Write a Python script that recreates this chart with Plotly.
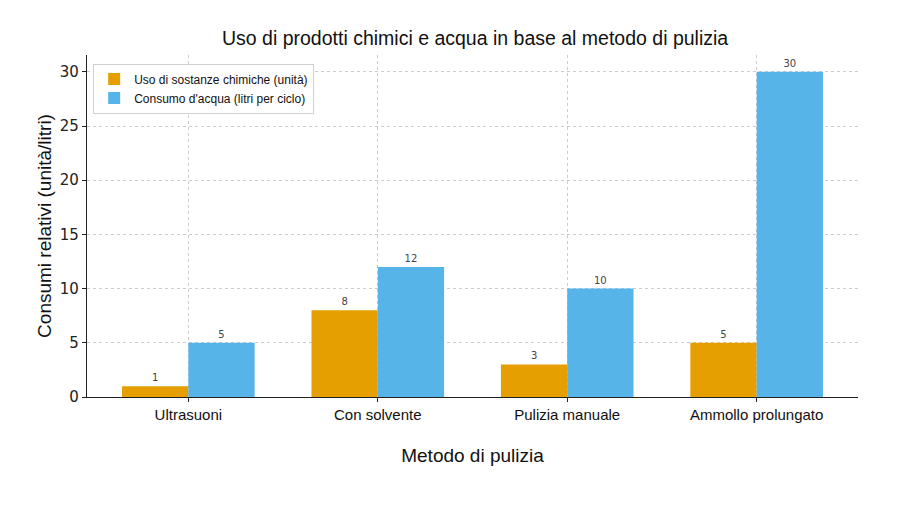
import plotly.graph_objects as go

categories = ["Ultrasuoni", "Con solvente", "Pulizia manuale", "Ammollo prolungato"]
chimiche = [1, 8, 3, 5]
acqua = [5, 12, 10, 30]
series_names = ["Uso di sostanze chimiche (unità)", "Consumo d'acqua (litri per ciclo)"]
y_ticks = [0, 5, 10, 15, 20, 25, 30]

fig = go.Figure()
fig.add_trace(go.Bar(
    x=categories, y=chimiche, name=series_names[0],
    marker=dict(color="#E69F00", line=dict(width=0)),
    text=chimiche, textposition="outside", cliponaxis=False,
    textfont=dict(family="DejaVu Sans", size=10, color="#444444"),
))
fig.add_trace(go.Bar(
    x=categories, y=acqua, name=series_names[1],
    marker=dict(color="#56B4E9", line=dict(width=0)),
    text=acqua, textposition="outside", cliponaxis=False,
    textfont=dict(family="DejaVu Sans", size=10, color="#444444"),
))

fig.update_layout(
    width=900, height=509,
    paper_bgcolor="white", plot_bgcolor="white",
    margin=dict(l=79, r=50, t=47, b=120),
    barmode="group", bargap=0.3, bargroupgap=0,
    font=dict(family="Liberation Sans", color="#111111"),
    title=dict(text="Uso di prodotti chimici e acqua in base al metodo di pulizia",
               x=0.519, xanchor="center", y=0.941, yanchor="middle",
               font=dict(size=19.5, family="Liberation Sans", color="#111111")),
    legend=dict(x=0.008, y=0.975, xanchor="left", yanchor="top",
                bgcolor="white", bordercolor="#d0d0d0", borderwidth=1,
                font=dict(size=12, family="Liberation Sans", color="#111111"),
                tracegroupgap=2),
)
fig.update_xaxes(
    range=[-0.535, 3.535], automargin=False,
    showline=True, linecolor="#222222", linewidth=1.2,
    ticks="outside", ticklen=4, tickcolor="#222222",
    showgrid=True, gridcolor="#cccccc", griddash="dot", gridwidth=1,
    tickfont=dict(size=15, family="Liberation Sans", color="#111111"),
    title=dict(text="Metodo di pulizia", font=dict(size=19, family="Liberation Sans", color="#111111"), standoff=26),
)
fig.update_yaxes(
    range=[0, 31.55], tickvals=y_ticks, automargin=False,
    showline=True, linecolor="#222222", linewidth=1.2,
    ticks="outside", ticklen=4, tickcolor="#222222",
    showgrid=True, gridcolor="#cccccc", griddash="dot", gridwidth=1,
    zeroline=False,
    tickfont=dict(size=15, family="DejaVu Sans", color="#222222"),
    title=dict(text="Consumi relativi (unità/litri)", font=dict(size=19, family="Liberation Sans", color="#111111"), standoff=3),
)

fig.write_html("out.html")
